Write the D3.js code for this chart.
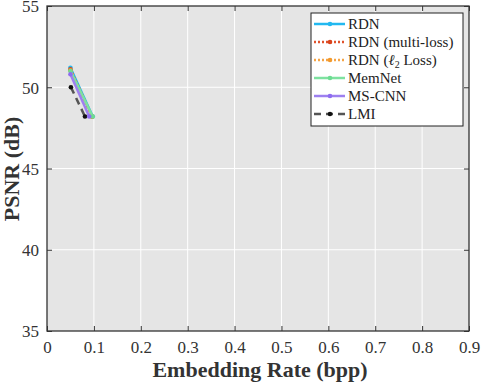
<!DOCTYPE html>
<html>
<head>
<meta charset="utf-8">
<script src="https://cdn.jsdelivr.net/npm/d3@7"></script>
<style>
  body { margin: 0; background: #fff; }
  text { font-family: "Liberation Serif", "Times New Roman", serif; }
</style>
</head>
<body>
<script>
// data
var seriesNames = ["RDN", "RDN (multi-loss)", "RDN (l2 Loss)", "MemNet", "MS-CNN", "LMI"];
var rdnX = [0.05, 0.0975], rdnY = [51.2, 48.2];
var multiX = [0.05, 0.096], multiY = [51.1, 48.2];
var l2X = [0.05, 0.096], l2Y = [51.05, 48.2];
var memX = [0.05, 0.0975], memY = [51.0, 48.2];
var msX = [0.05, 0.09], msY = [50.8, 48.2];
var lmiX = [0.051, 0.081], lmiY = [50.0, 48.2];
var xTicks = [0, 0.1, 0.2, 0.3, 0.4, 0.5, 0.6, 0.7, 0.8, 0.9];
var yTicks = [35, 40, 45, 50, 55];

var colors = ["#22b8f0", "#e0522c", "#f5a445", "#7ee2a0", "#9d80f0", "#555555"];
var markerColors = ["#22b8f0", "#d9441c", "#f29a2e", "#6edc92", "#8e6cf0", "#111111"];
var dashes = [null, "2,2", "2,2", null, null, "7,5"];

var series = [[rdnX, rdnY], [multiX, multiY], [l2X, l2Y], [memX, memY], [msX, msY], [lmiX, lmiY]]
  .map(function(s, i) {
    return { name: seriesNames[i], pts: s[0].map(function(x, j) { return [x, s[1][j]]; }) };
  });

var W = 482, H = 385;
// plot box
var pl = 47, pr = 469, pt = 6, pb = 331;

var svg = d3.select("body").append("svg")
  .attr("width", W).attr("height", H);

var x = d3.scaleLinear().domain([0, 0.9]).range([pl, pr]);
var y = d3.scaleLinear().domain([35, 55]).range([pb, pt]);

// plot background
svg.append("rect")
  .attr("x", pl).attr("y", pt)
  .attr("width", pr - pl).attr("height", pb - pt)
  .attr("fill", "#e5e5e5");

// grid
svg.append("g").selectAll("line").data(xTicks.slice(1, -1)).enter().append("line")
  .attr("x1", d => x(d)).attr("x2", d => x(d))
  .attr("y1", pt).attr("y2", pb)
  .attr("stroke", "#fff").attr("stroke-width", 1);
svg.append("g").selectAll("line").data(yTicks.slice(1, -1)).enter().append("line")
  .attr("y1", d => y(d)).attr("y2", d => y(d))
  .attr("x1", pl).attr("x2", pr)
  .attr("stroke", "#fff").attr("stroke-width", 1);

// axes with inward ticks
var fs = "17px";
var gx = svg.append("g").attr("transform", "translate(0," + pb + ")")
  .call(d3.axisBottom(x).tickValues(xTicks).tickSize(-5).tickPadding(10)
    .tickFormat(d => d === 0 ? "0" : d3.format(".1f")(d)));
var gy = svg.append("g").attr("transform", "translate(" + pl + ",0)")
  .call(d3.axisLeft(y).tickValues(yTicks).tickSize(-5).tickPadding(8));
var gt = svg.append("g").attr("transform", "translate(0," + pt + ")")
  .call(d3.axisTop(x).tickValues(xTicks).tickSize(-5).tickFormat(""));
var gr = svg.append("g").attr("transform", "translate(" + pr + ",0)")
  .call(d3.axisRight(y).tickValues(yTicks).tickSize(-5).tickFormat(""));
[gx, gy, gt, gr].forEach(function(g) {
  g.select(".domain").remove();
  g.selectAll(".tick line").attr("stroke", "#333");
  g.selectAll("text").attr("font-size", fs).attr("fill", "#333")
    .attr("font-family", "Liberation Serif");
});
gy.selectAll("text").attr("dy", "0.35em");

// frame
svg.append("rect")
  .attr("x", pl).attr("y", pt)
  .attr("width", pr - pl).attr("height", pb - pt)
  .attr("fill", "none").attr("stroke", "#333").attr("stroke-width", 1.3);

// lines
var line = d3.line().x(d => x(d[0])).y(d => y(d[1]));
var order = [5, 0, 1, 2, 3, 4];
order.forEach(function(i) {
  var s = series[i];
  svg.append("path").datum(s.pts)
    .attr("d", line)
    .attr("fill", "none")
    .attr("stroke", colors[i])
    .attr("stroke-width", 2.5)
    .attr("stroke-dasharray", dashes[i]);
  svg.append("g").selectAll("circle").data(s.pts).enter().append("circle")
    .attr("cx", d => x(d[0])).attr("cy", d => y(d[1]))
    .attr("r", 2.3).attr("fill", markerColors[i]);
});

// axis titles
svg.append("text")
  .attr("x", 260).attr("y", 377)
  .attr("text-anchor", "middle")
  .attr("font-size", "22px").attr("font-weight", "bold").attr("fill", "#333")
  .text("Embedding Rate (bpp)");
svg.append("text")
  .attr("transform", "translate(19,169) rotate(-90)")
  .attr("text-anchor", "middle")
  .attr("font-size", "22px").attr("font-weight", "bold").attr("fill", "#333")
  .text("PSNR (dB)");

// legend
var lg = svg.append("g");
lg.append("rect")
  .attr("x", 311).attr("y", 13).attr("width", 152).attr("height", 113)
  .attr("fill", "#fff").attr("stroke", "#222").attr("stroke-width", 1);
series.forEach(function(s, i) {
  var ly = 24 + i * 18;
  lg.append("line")
    .attr("x1", 314).attr("x2", 345).attr("y1", ly).attr("y2", ly)
    .attr("stroke", colors[i]).attr("stroke-width", 2.5)
    .attr("stroke-dasharray", dashes[i]);
  lg.append("circle").attr("cx", 330).attr("cy", ly).attr("r", 2.3)
    .attr("fill", markerColors[i]);
  var t = lg.append("text").attr("x", 348).attr("y", ly).attr("dy", "0.35em")
    .attr("font-size", "15px").attr("fill", "#222");
  if (i === 2) {
    t.append("tspan").text("RDN (");
    t.append("tspan").attr("font-style", "italic").text("\u2113");
    t.append("tspan").attr("font-size", "10px").attr("dy", "3").text("2");
    t.append("tspan").attr("dy", "-3").text(" Loss)");
  } else {
    t.text(s.name);
  }
});
</script>
</body>
</html>
